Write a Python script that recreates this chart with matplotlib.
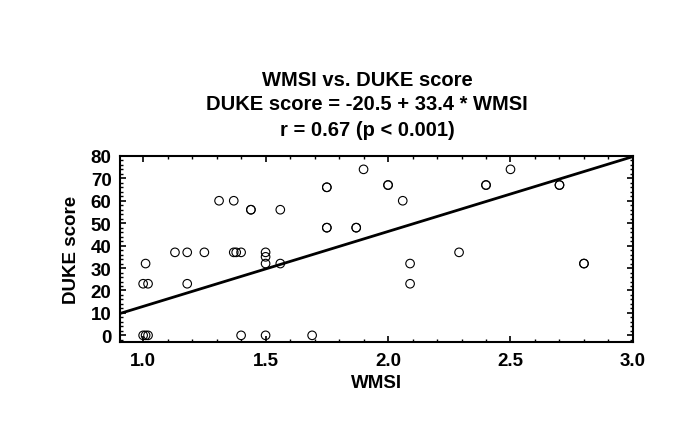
import numpy as np
import matplotlib
matplotlib.use('Agg')
import matplotlib.pyplot as plt
from matplotlib.ticker import MultipleLocator, FormatStrFormatter

# WMSI vs DUKE score (duplicates give the darker rings)
wmsi = [1.00, 1.01, 1.02, 1.00, 1.02, 1.01,
        1.13, 1.18, 1.18, 1.25, 1.31, 1.37,
        1.37, 1.38, 1.40, 1.40, 1.44, 1.44,
        1.50, 1.50, 1.50, 1.50, 1.56, 1.56,
        1.69, 1.75, 1.75, 1.75, 1.75, 1.87,
        1.87, 1.90, 2.00, 2.00, 2.06, 2.09,
        2.09, 2.29, 2.40, 2.40, 2.50, 2.70,
        2.70, 2.80, 2.80]
duke = [0, 0, 0, 23, 23, 32,
        37, 37, 23, 37, 60, 60,
        37, 37, 37, 0, 56, 56,
        37, 35, 32, 0, 56, 32,
        0, 66, 66, 48, 48, 48,
        48, 74, 67, 67, 60, 32,
        23, 37, 67, 67, 74, 67,
        67, 32, 32]

intercept = -20.5
slope = 33.4
titles = ['WMSI vs. DUKE score', 'DUKE score = -20.5 + 33.4 * WMSI', 'r = 0.67 (p < 0.001)']

plt.rc('font', family='Liberation Sans', weight='bold', size=13)
fig = plt.figure(figsize=(6.85, 4.31), dpi=100)
ax = fig.add_axes([0.175, 0.204, 0.749, 0.432])

ax.scatter(wmsi, duke, s=38, facecolors='none', edgecolors='black', linewidths=0.8, zorder=3)
xs = np.array([0.905, 3.0])
ax.plot(xs, intercept + slope * xs, color='black', lw=2)

ax.set_xlim(0.905, 3.0)
ax.set_ylim(-3, 80)
ax.xaxis.set_major_locator(MultipleLocator(0.5))
ax.xaxis.set_minor_locator(MultipleLocator(0.1))
ax.yaxis.set_major_locator(MultipleLocator(10))
ax.yaxis.set_minor_locator(MultipleLocator(2))
ax.xaxis.set_major_formatter(FormatStrFormatter('%.1f'))
ax.tick_params(which='both', direction='in', top=True, right=True, labelsize=13.5)
ax.tick_params(axis='x', which='major', pad=7)
ax.tick_params(axis='y', which='major', pad=6)
ax.tick_params(which='major', length=4, width=1.2)
ax.tick_params(which='minor', length=2, width=1)
for sp in ax.spines.values():
    sp.set_linewidth(1.5)

ax.set_xlabel('WMSI', fontsize=13.5, fontweight='bold', labelpad=4)
ax.set_ylabel('DUKE score', fontsize=13.5, fontweight='bold', labelpad=8)

for i, t in enumerate(titles):
    fig.text(0.536, 1 - (80 + 25 * i) / 431, t, ha='center', va='center', fontsize=14.5)

fig.savefig('out.png', dpi=100)
